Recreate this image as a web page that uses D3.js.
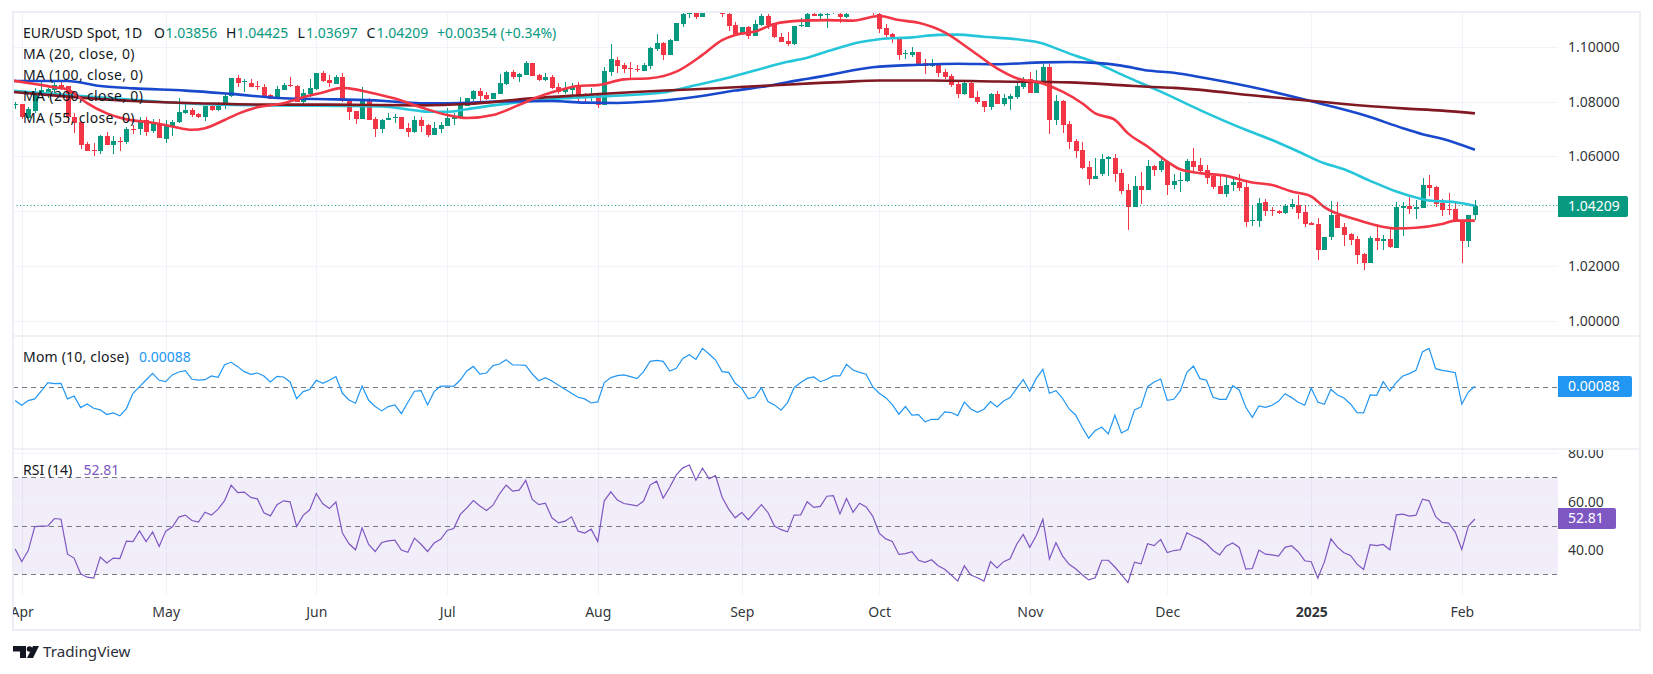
<!DOCTYPE html>
<html>
<head>
<meta charset="utf-8">
<script src="https://cdn.jsdelivr.net/npm/d3@7"></script>
<style>
html,body{margin:0;padding:0;background:#fff;overflow:hidden}
svg{display:block}
text{font-family:"Noto Sans",Roboto,sans-serif}
</style>
</head>
<body>
<div id="chart"></div>
<script>
//candles, first one is the last bar of March so day index starts at -1
var firstDay= -1;
var opens= [1.0786,1.0791,1.0739,1.0767,1.0830,1.0835,1.0842,1.0859,1.0857,1.0745,
1.0724,1.0646,1.0624,1.0618,1.0675,1.0641,1.0655,1.0654,1.0699,1.0699,
1.0731,1.0692,1.0723,1.0665,1.0711,1.0724,1.0758,1.0769,1.0755,1.0745,
1.0784,1.0769,1.0786,1.0819,1.0886,1.0871,1.0866,1.0857,1.0854,1.0823,
1.0812,1.0843,1.0859,1.0857,1.0800,1.0828,1.0846,1.0903,1.0879,1.0864,
1.0888,1.0801,1.0767,1.0737,1.0809,1.0737,1.0700,1.0732,1.0740,1.0745,
1.0703,1.0688,1.0733,1.0715,1.0678,1.0700,1.0711,1.0737,1.0739,1.0784,
1.0809,1.0839,1.0824,1.0809,1.0828,1.0864,1.0908,1.0890,1.0897,1.0939,
1.0897,1.0879,1.0890,1.0852,1.0834,1.0842,1.0856,1.0820,1.0814,1.0824,
1.0786,1.0909,1.0951,1.0933,1.0921,1.0920,1.0913,1.0931,1.0990,1.1013,
1.0970,1.1022,1.1083,1.1121,1.1124,1.1109,1.1131,1.1148,1.1134,1.1119,
1.1079,1.1045,1.1070,1.1040,1.1078,1.1112,1.1085,1.1034,1.1021,1.1009,
1.1074,1.1073,1.1121,1.1113,1.1115,1.1124,1.1121,1.1109,1.1126,1.1141,
1.1152,1.1141,1.1121,1.1068,1.1046,1.1032,1.0973,1.0970,1.0981,1.0939,
1.0931,1.0937,1.0908,1.0893,1.0864,1.0828,1.0869,1.0817,1.0801,1.0780,
1.0828,1.0791,1.0809,1.0817,1.0852,1.0881,1.0831,1.0871,1.0926,1.0733,
1.0803,1.0718,1.0656,1.0624,1.0562,1.0518,1.0536,1.0592,1.0595,1.0540,
1.0478,1.0417,1.0493,1.0478,1.0565,1.0551,1.0578,1.0496,1.0510,1.0511,
1.0584,1.0569,1.0551,1.0529,1.0493,1.0463,1.0496,1.0507,1.0489,1.0366,
1.0365,1.0434,1.0405,1.0402,1.0392,1.0416,1.0423,1.0398,1.0358,1.0354,
1.0260,1.0307,1.0387,1.0343,1.0318,1.0300,1.0245,1.0212,1.0303,1.0292,
1.0300,1.0267,1.0412,1.0420,1.0409,1.0412,1.0496,1.0489,1.0431,1.0410,
1.0409,1.0365,1.0292,1.03856];
var highs= [1.0800,1.0791,1.0781,1.0848,1.0879,1.0848,1.0873,1.0879,1.0857,1.0757,
1.0724,1.0654,1.0650,1.0678,1.0689,1.0675,1.0672,1.0709,1.0715,1.0745,
1.0743,1.0735,1.0735,1.0733,1.0731,1.0812,1.0794,1.0775,1.0757,1.0784,
1.0794,1.0800,1.0830,1.0887,1.0896,1.0881,1.0881,1.0875,1.0863,1.0826,
1.0857,1.0866,1.0888,1.0859,1.0845,1.0881,1.0905,1.0913,1.0897,1.0897,
1.0903,1.0801,1.0767,1.0852,1.0812,1.0745,1.0735,1.0760,1.0754,1.0745,
1.0721,1.0748,1.0745,1.0718,1.0727,1.0727,1.0775,1.0757,1.0815,1.0814,
1.0842,1.0848,1.0834,1.0830,1.0900,1.0911,1.0915,1.0905,1.0948,1.0939,
1.0900,1.0903,1.0897,1.0866,1.0870,1.0866,1.0871,1.0832,1.0848,1.0833,
1.0927,1.1010,1.0961,1.0939,1.0944,1.0932,1.0942,1.0998,1.1046,1.1018,
1.1029,1.1087,1.1134,1.1146,1.1134,1.1134,1.1158,1.1158,1.1143,1.1134,
1.1091,1.1070,1.1075,1.1097,1.1118,1.1121,1.1085,1.1051,1.1052,1.1075,
1.1103,1.1134,1.1134,1.1134,1.1134,1.1152,1.1134,1.1131,1.1155,1.1163,
1.1163,1.1148,1.1134,1.1083,1.1049,1.1034,1.0988,1.0998,1.0981,1.0954,
1.0954,1.0939,1.0917,1.0900,1.0873,1.0873,1.0873,1.0839,1.0803,1.0830,
1.0839,1.0828,1.0828,1.0873,1.0888,1.0908,1.0915,1.0937,1.0937,1.0824,
1.0806,1.0729,1.0664,1.0652,1.0584,1.0595,1.0609,1.0602,1.0609,1.0554,
1.0500,1.0529,1.0544,1.0587,1.0569,1.0597,1.0578,1.0536,1.0544,1.0591,
1.0631,1.0595,1.0569,1.0536,1.0533,1.0525,1.0525,1.0536,1.0511,1.0423,
1.0449,1.0445,1.0415,1.0405,1.0427,1.0445,1.0460,1.0423,1.0361,1.0376,
1.0307,1.0438,1.0434,1.0358,1.0321,1.0310,1.0249,1.0310,1.0354,1.0314,
1.0340,1.0434,1.0434,1.0456,1.0442,1.0522,1.0533,1.0493,1.0445,1.0467,
1.0434,1.0365,1.0387,1.04425];
var lows= [1.0772,1.0735,1.0735,1.0757,1.0828,1.0812,1.0830,1.0842,1.0721,1.0687,
1.0627,1.0621,1.0603,1.0609,1.0641,1.0610,1.0618,1.0646,1.0681,1.0678,
1.0675,1.0684,1.0666,1.0650,1.0675,1.0723,1.0755,1.0745,1.0739,1.0728,
1.0767,1.0767,1.0772,1.0818,1.0854,1.0834,1.0852,1.0842,1.0815,1.0809,
1.0808,1.0842,1.0852,1.0799,1.0786,1.0818,1.0842,1.0873,1.0854,1.0863,
1.0799,1.0733,1.0718,1.0737,1.0733,1.0669,1.0684,1.0731,1.0723,1.0700,
1.0672,1.0687,1.0690,1.0669,1.0678,1.0687,1.0711,1.0715,1.0735,1.0784,
1.0803,1.0803,1.0806,1.0808,1.0828,1.0862,1.0883,1.0873,1.0896,1.0893,
1.0875,1.0875,1.0847,1.0826,1.0828,1.0818,1.0803,1.0800,1.0803,1.0778,
1.0786,1.0893,1.0905,1.0905,1.0885,1.0908,1.0910,1.0917,1.0985,1.0951,
1.0970,1.1022,1.1073,1.1103,1.1100,1.1107,1.1124,1.1126,1.1107,1.1058,
1.1043,1.1043,1.1028,1.1039,1.1077,1.1064,1.1033,1.1017,1.1004,1.1006,
1.1073,1.1073,1.1113,1.1097,1.1069,1.1119,1.1085,1.1106,1.1124,1.1138,
1.1134,1.1115,1.1049,1.1033,1.1012,1.0951,1.0956,1.0961,1.0936,1.0900,
1.0925,1.0891,1.0882,1.0854,1.0813,1.0824,1.0813,1.0791,1.0763,1.0769,
1.0791,1.0785,1.0769,1.0811,1.0847,1.0831,1.0831,1.0871,1.0682,1.0715,
1.0687,1.0627,1.0595,1.0554,1.0496,1.0518,1.0530,1.0527,1.0507,1.0463,
1.0332,1.0417,1.0427,1.0476,1.0529,1.0542,1.0460,1.0482,1.0471,1.0507,
1.0545,1.0536,1.0500,1.0482,1.0463,1.0453,1.0474,1.0474,1.0343,1.0347,
1.0343,1.0383,1.0383,1.0391,1.0391,1.0409,1.0372,1.0343,1.0351,1.0223,
1.0260,1.0296,1.0340,1.0274,1.0278,1.0208,1.0187,1.0212,1.0260,1.0260,
1.0267,1.0267,1.0310,1.0391,1.0372,1.0412,1.0454,1.0415,1.0383,1.0387,
1.0365,1.0211,1.0270,1.03697];
var closes= [1.0791,1.0743,1.0772,1.0836,1.0842,1.0845,1.0860,1.0854,1.0743,1.0723,
1.0642,1.0621,1.0619,1.0675,1.0641,1.0656,1.0652,1.0699,1.0695,1.0731,
1.0690,1.0724,1.0666,1.0715,1.0726,1.0762,1.0769,1.0751,1.0745,1.0784,
1.0769,1.0791,1.0822,1.0885,1.0866,1.0876,1.0854,1.0853,1.0819,1.0811,
1.0846,1.0860,1.0856,1.0800,1.0830,1.0848,1.0903,1.0876,1.0866,1.0888,
1.0801,1.0763,1.0737,1.0809,1.0733,1.0700,1.0733,1.0740,1.0745,1.0700,
1.0689,1.0733,1.0711,1.0678,1.0703,1.0715,1.0740,1.0745,1.0789,1.0812,
1.0839,1.0820,1.0809,1.0830,1.0866,1.0908,1.0888,1.0900,1.0939,1.0893,
1.0879,1.0888,1.0850,1.0834,1.0845,1.0856,1.0818,1.0817,1.0825,1.0788,
1.0911,1.0955,1.0931,1.0919,1.0917,1.0916,1.0933,1.0996,1.1013,1.0971,
1.1024,1.1086,1.1121,1.1134,1.1109,1.1128,1.1146,1.1136,1.1119,1.1075,
1.1045,1.1070,1.1040,1.1083,1.1112,1.1079,1.1034,1.1017,1.1009,1.1075,
1.1078,1.1121,1.1113,1.1119,1.1121,1.1140,1.1109,1.1121,1.1143,1.1153,
1.1136,1.1124,1.1064,1.1043,1.1032,1.0970,1.0978,1.0981,1.0937,1.0931,
1.0938,1.0905,1.0888,1.0860,1.0828,1.0868,1.0813,1.0799,1.0780,1.0828,
1.0791,1.0813,1.0820,1.0857,1.0881,1.0831,1.0875,1.0926,1.0733,1.0802,
1.0715,1.0654,1.0620,1.0558,1.0518,1.0528,1.0591,1.0597,1.0536,1.0474,
1.0414,1.0493,1.0478,1.0565,1.0551,1.0584,1.0496,1.0511,1.0514,1.0584,
1.0562,1.0547,1.0522,1.0489,1.0463,1.0496,1.0507,1.0485,1.0361,1.0370,
1.0431,1.0402,1.0402,1.0392,1.0420,1.0427,1.0394,1.0354,1.0351,1.0260,
1.0307,1.0387,1.0340,1.0314,1.0296,1.0241,1.0212,1.0303,1.0292,1.0300,
1.0270,1.0416,1.0420,1.0409,1.0416,1.0496,1.0485,1.0427,1.0405,1.0408,
1.0369,1.0292,1.0387,1.04209];

var ma20Days= [-2,2,5,7,8,10,13,16,20,23,26,28,31,33,36,40,43,46,49,50,53,57,61,65,68,72,76,79,82,85,88,92,96,100,104,107,109,112,115,119,123,127,131,134,137,141,145,149,152,156,159,162,164,167,169,172,175,177,180,184,188,191,194,197,199,204,207,210,213,217,219,222];
var ma20= [1.0879,1.0864,1.0852,1.0845,1.0830,1.0794,1.0757,1.0735,1.0723,1.0709,1.0697,1.0703,1.0733,1.0755,1.0779,1.0794,1.0816,1.0833,1.0850,1.0848,1.0834,1.0811,1.0779,1.0751,1.0740,1.0751,1.0788,1.0818,1.0840,1.0857,1.0860,1.0881,1.0885,1.0909,1.0970,1.1024,1.1043,1.1055,1.1083,1.1095,1.1097,1.1095,1.1112,1.1097,1.1087,1.1052,1.0988,1.0921,1.0885,1.0866,1.0836,1.0794,1.0757,1.0733,1.0684,1.0636,1.0581,1.0553,1.0539,1.0529,1.0505,1.0496,1.0472,1.0454,1.0415,1.0369,1.0348,1.0337,1.0340,1.0354,1.0366,1.0366];
var ma55Days= [-2,7,17,27,37,48,55,61,62,65,68,72,78,83,88,93,98,102,107,112,117,119,124,128,131,136,140,143,147,152,156,158,161,164,166,169,172,174,180,187,191,195,199,202,206,210,213,215,219,222];
var ma55= [1.0840,1.0824,1.0806,1.0791,1.0786,1.0784,1.0782,1.0765,1.0763,1.0763,1.0772,1.0786,1.0802,1.0812,1.0818,1.0824,1.0833,1.0854,1.0881,1.0913,1.0945,1.0954,1.0990,1.1016,1.1027,1.1034,1.1043,1.1044,1.1036,1.1027,1.1012,1.0994,1.0967,1.0943,1.0921,1.0888,1.0857,1.0836,1.0769,1.0697,1.0660,1.0618,1.0575,1.0553,1.0511,1.0472,1.0450,1.0439,1.0433,1.0420];
var ma100Days= [-2,3,7,12,17,25,32,40,48,55,61,65,73,81,86,91,96,101,109,114,119,122,124,130,137,143,149,156,160,164,168,172,176,181,190,197,205,211,214,217,222];
var ma100= [1.0875,1.0875,1.0875,1.0857,1.0848,1.0840,1.0828,1.0812,1.0808,1.0803,1.0794,1.0794,1.0800,1.0802,1.0796,1.0795,1.0800,1.0811,1.0840,1.0857,1.0879,1.0891,1.0900,1.0925,1.0934,1.0938,1.0936,1.0943,1.0944,1.0941,1.0931,1.0913,1.0905,1.0885,1.0842,1.0801,1.0751,1.0703,1.0681,1.0664,1.0624];
var ma200Days= [-2,7,17,27,37,47,61,68,78,86,93,101,109,122,125,131,139,149,160,169,172,176,190,211,217,222];
var ma200= [1.0836,1.0818,1.0802,1.0794,1.0789,1.0789,1.0786,1.0791,1.0812,1.0824,1.0834,1.0843,1.0852,1.0868,1.0871,1.0877,1.0877,1.0873,1.0870,1.0858,1.0854,1.0850,1.0818,1.0775,1.0767,1.0757];

var momentum= [-.0104,-.0141,-.0104,-.0091,-.0029,.0037,.0029,.0031,-.0091,-.0068,
-.0159,-.0131,-.0164,-.0177,-.0214,-.0201,-.0224,-.0167,-.0047,.0005,
.0057,.0110,.0055,.0044,.0097,.0120,.0131,.0063,.0057,.0060,
.0089,.0078,.0177,.0196,.0162,.0123,.0102,.0112,.0089,.0042,
.0086,.0081,.0042,-.0089,-.0034,-.0018,.0055,.0031,.0055,.0084,
-.0047,-.0099,-.0125,.0010,-.0102,-.0151,-.0185,-.0151,-.0138,-.0206,
-.0117,-.0031,-.0026,-.0138,-.0034,.0010,.0010,.0008,.0057,.0128,
.0164,.0104,.0112,.0170,.0183,.0217,.0175,.0175,.0172,.0104,
.0052,.0076,.0050,.0016,-.0016,-.0047,-.0078,-.0091,-.0123,-.0115,
.0037,.0076,.0091,.0097,.0084,.0068,.0123,.0204,.0211,.0204,
.0128,.0149,.0227,.0256,.0219,.0305,.0261,.0214,.0123,.0117,
.0031,-.0008,-.0091,-.0076,-.0003,-.0112,-.0138,-.0180,-.0120,-.0003,
.0037,.0070,.0081,.0044,.0063,.0089,.0089,.0180,.0136,.0117,
.0102,.0005,-.0047,-.0081,-.0136,-.0211,-.0151,-.0219,-.0214,-.0271,
-.0251,-.0251,-.0193,-.0198,-.0222,-.0115,-.0170,-.0196,-.0172,-.0112,
-.0154,-.0107,-.0081,-.0008,.0060,-.0031,.0070,.0141,-.0047,-.0026,
-.0086,-.0170,-.0217,-.0313,-.0399,-.0339,-.0313,-.0365,-.0219,-.0358,
-.0331,-.0177,-.0154,.0005,.0042,.0065,-.0102,-.0094,-.0026,.0117,
.0167,.0068,.0055,-.0078,-.0094,-.0094,.0013,-.0021,-.0157,-.0235,
-.0146,-.0157,-.0141,-.0110,-.0050,-.0081,-.0117,-.0141,-.0008,-.0115,
-.0133,-.0016,-.0060,-.0084,-.0131,-.0198,-.0201,-.0060,-.0063,.0044,
-.0029,.0039,.0089,.0107,.0133,.0279,.0305,.0146,.0133,.0125,
.0115,-.0131,-.0037,.00088];
var rsi= [40.4,35.3,39.8,49.7,49.9,50.0,53.0,52.7,38.3,36.7,
30.2,28.8,28.4,37.1,34.7,36.7,36.5,43.7,43.5,47.9,
43.5,47.5,41.5,47.8,49.5,53.6,54.4,52.2,51.5,55.6,
54.4,56.9,60.4,66.8,63.7,63.9,61.7,61.1,55.4,54.1,
58.7,60.3,59.9,49.7,54.3,56.6,63.3,59.1,57.1,59.8,
47.0,42.6,40.1,49.2,42.3,39.4,43.1,43.8,44.1,40.0,
39.1,44.9,42.4,39.4,42.9,44.4,48.1,48.9,54.7,57.4,
60.4,58.2,56.3,58.5,63.2,66.8,64.3,64.7,68.7,60.9,
58.7,59.3,53.3,51.2,51.9,53.7,47.8,47.0,48.6,43.5,
60.3,64.0,60.6,59.2,58.7,58.2,60.2,66.8,68.4,61.4,
65.9,71.0,73.9,75.1,68.8,73.8,69.4,70.7,61.8,56.9,
53.3,55.5,52.5,55.6,58.7,55.5,49.9,48.4,47.5,54.4,
54.5,59.9,57.6,58.0,62.2,62.4,54.9,61.3,55.6,59.3,
57.8,54.0,47.0,44.6,43.5,38.2,38.5,39.3,35.8,34.9,
36.0,33.5,32.1,29.7,27.2,33.5,29.7,28.6,27.2,35.2,
32.6,35.2,36.4,42.4,46.4,41.1,46.0,52.7,36.3,43.0,
37.6,34.1,32.3,29.8,27.7,28.6,35.8,35.8,33.0,29.9,
26.6,35.0,34.3,42.6,41.8,44.4,39.0,39.8,40.1,47.1,
45.7,44.5,42.6,39.8,38.0,41.6,42.9,41.1,32.1,32.4,
40.0,38.3,38.0,37.5,41.1,41.8,39.3,35.6,35.2,28.4,
35.0,44.6,41.2,38.9,37.8,34.2,32.0,42.2,41.8,42.3,
40.1,54.5,54.8,54.0,54.4,61.0,60.3,53.8,51.4,51.1,
47.4,40.2,49.9,52.81];

//tick labels
var monthDays= [0,22,45,65,88,110,131,154,175,197,220];
var monthLabels= ["Apr","May","Jun","Jul","Aug","Sep","Oct","Nov","Dec","2025","Feb"];
var priceGrid= [1.00,1.02,1.04,1.06,1.08,1.10];
var priceTicks= [1.00,1.02,1.06,1.08,1.10]; //1.04 sits under the last price tag
var rsiGrid= [40,60,80];
var rsiTicks= [40,60,80];
var rsiLevels= [30,50,70];

var maLegend= ["MA (20, close, 0)","MA (100, close, 0)","MA (200, close, 0)","MA (55, close, 0)"];

//colors
var upColor= "#089981";
var downColor= "#f23645";
var ma20Color= "#f23645";
var ma55Color= "#26c6da";
var ma100Color= "#1848cc";
var ma200Color= "#801922";
var momColor= "#2196f3";
var rsiColor= "#7e57c2";
var gridColor= "#f0f3fa";
var frameColor= "#eceef5";
var textColor= "#131722";

var w= 1653;
var h= 674;
var plotLeft= 13;
var plotRight= 1558;
var frameRight= 1640;
var frameTop= 13;
var priceBottom= 336;
var momBottom= 449;
var rsiBottom= 595;
var frameBottom= 630;

var svg= d3.select("#chart").append("svg").attr("width",w).attr("height",h);
svg.append("rect").attr("width",w).attr("height",h).attr("fill","#ffffff");

//scales
var x= d3.scaleLinear().domain([0,222]).range([21.7,1474.9]);
var yPrice= d3.scaleLinear().domain([1.00,1.10]).range([321,46.7]);
var yMom= d3.scaleLinear().domain([-0.04,0.04]).range([438.3,336.3]);
var yRsi= d3.scaleLinear().domain([30,70]).range([574.3,477.3]);

//clips for the panes
var defs= svg.append("defs");
function addClip(id,x0,y0,x1,y1){
    defs.append("clipPath").attr("id",id).append("rect")
        .attr("x",x0).attr("y",y0).attr("width",x1-x0).attr("height",y1-y0);
}
addClip("pricePane",plotLeft,frameTop,plotRight,priceBottom);
addClip("momPane",plotLeft,priceBottom,plotRight,momBottom);
addClip("rsiPane",plotLeft,momBottom,plotRight,rsiBottom);
addClip("timePane",plotLeft,rsiBottom,plotRight,frameBottom);
addClip("rsiAxis",plotRight,momBottom+1,frameRight,rsiBottom);

//vertical grid over all panes
svg.append("g").selectAll("line")
    .data(monthDays)
    .enter().append("line")
    .attr("x1",function(d){return Math.round(x(d))+0.5;})
    .attr("x2",function(d){return Math.round(x(d))+0.5;})
    .attr("y1",frameTop)
    .attr("y2",rsiBottom)
    .attr("stroke",gridColor)
    .attr("stroke-width",1);

//horizontal grid, price pane
svg.append("g").selectAll("line")
    .data(priceGrid)
    .enter().append("line")
    .attr("x1",plotLeft).attr("x2",plotRight)
    .attr("y1",function(d){return Math.round(yPrice(d))+0.5;})
    .attr("y2",function(d){return Math.round(yPrice(d))+0.5;})
    .attr("stroke",gridColor);

//rsi background and its grid
svg.append("rect")
    .attr("x",plotLeft)
    .attr("y",yRsi(70))
    .attr("width",plotRight-plotLeft)
    .attr("height",yRsi(30)-yRsi(70))
    .attr("fill",rsiColor)
    .attr("fill-opacity",0.1);
svg.append("g").selectAll("line")
    .data(rsiGrid)
    .enter().append("line")
    .attr("x1",plotLeft).attr("x2",plotRight)
    .attr("y1",function(d){return Math.round(yRsi(d))+0.5;})
    .attr("y2",function(d){return Math.round(yRsi(d))+0.5;})
    .attr("stroke",gridColor);

//pane separators and the frame
function frameLine(x1,y1,x2,y2,color,width){
    svg.append("line").attr("x1",x1).attr("y1",y1).attr("x2",x2).attr("y2",y2)
        .attr("stroke",color).attr("stroke-width",width);
}
frameLine(12,priceBottom,frameRight,priceBottom,"#e0e3eb",1);
frameLine(12,momBottom,frameRight,momBottom,"#e0e3eb",1);

//candles
var candleData= d3.range(opens.length).map(function(i){
    return {day:i+firstDay,o:opens[i],h:highs[i],l:lows[i],c:closes[i]};
});
var candles= svg.append("g").attr("clip-path","url(#pricePane)")
    .selectAll("g.candle")
    .data(candleData)
    .enter().append("g")
    .attr("class","candle")
    .attr("fill",function(d){return d.c>=d.o?upColor:downColor;});
candles.append("rect") //wick
    .attr("x",function(d){return Math.round(x(d.day))-0.5;})
    .attr("width",1)
    .attr("y",function(d){return yPrice(d.h);})
    .attr("height",function(d){return yPrice(d.l)-yPrice(d.h);})
    .attr("shape-rendering","crispEdges");
candles.append("rect") //body
    .attr("x",function(d){return Math.round(x(d.day))-2.5;})
    .attr("width",5)
    .attr("y",function(d){return yPrice(Math.max(d.o,d.c));})
    .attr("height",function(d){return Math.max(1,Math.abs(yPrice(d.o)-yPrice(d.c)));})
    .attr("shape-rendering","crispEdges");

//moving averages
var maLine= d3.line()
    .x(function(d){return x(d[0]);})
    .y(function(d){return yPrice(d[1]);})
    .curve(d3.curveMonotoneX);
function drawMa(days,values,color){
    svg.append("path")
        .attr("clip-path","url(#pricePane)")
        .attr("d",maLine(d3.zip(days,values)))
        .attr("fill","none")
        .attr("stroke",color)
        .attr("stroke-width",2.6)
        .attr("stroke-linejoin","round");
}
drawMa(ma55Days,ma55,ma55Color);
drawMa(ma100Days,ma100,ma100Color);
drawMa(ma200Days,ma200,ma200Color);
drawMa(ma20Days,ma20,ma20Color);

//last price line
var lastClose= closes[closes.length-1];
svg.append("line")
    .attr("x1",plotLeft).attr("x2",plotRight)
    .attr("y1",yPrice(lastClose)).attr("y2",yPrice(lastClose))
    .attr("stroke",upColor)
    .attr("stroke-width",1)
    .attr("stroke-dasharray","1 2.5");

//dashed levels
function dashed(y){
    svg.append("line")
        .attr("x1",plotLeft).attr("x2",plotRight)
        .attr("y1",Math.round(y)+0.5).attr("y2",Math.round(y)+0.5)
        .attr("stroke","#787b86")
        .attr("stroke-width",1)
        .attr("stroke-dasharray","5 4");
}
dashed(yMom(0));
rsiLevels.forEach(function(d){dashed(yRsi(d));});

//momentum and rsi lines
var dayLine= function(yScale){
    return d3.line()
        .x(function(d,i){return x(i+firstDay);})
        .y(function(d){return yScale(d);});
};
svg.append("path")
    .attr("clip-path","url(#momPane)")
    .attr("d",dayLine(yMom)(momentum))
    .attr("fill","none")
    .attr("stroke",momColor)
    .attr("stroke-width",1.2);
svg.append("path")
    .attr("clip-path","url(#rsiPane)")
    .attr("d",dayLine(yRsi)(rsi))
    .attr("fill","none")
    .attr("stroke",rsiColor)
    .attr("stroke-width",1.2);

//outer frame on top of everything
frameLine(13,frameTop-1,frameRight,frameTop-1,frameColor,2);
frameLine(13,frameBottom,frameRight,frameBottom,frameColor,2);
frameLine(13,frameTop-2,13,frameBottom+1,frameColor,2);
frameLine(frameRight,frameTop-2,frameRight,frameBottom+1,frameColor,2);

//axes
var fontSize= 14;
var priceAxis= d3.axisRight(yPrice)
    .tickValues(priceTicks)
    .tickSize(0)
    .tickPadding(10)
    .tickFormat(d3.format(".5f"));
var priceAxisG= svg.append("g")
    .attr("transform","translate("+plotRight+",0)")
    .call(priceAxis);
var rsiAxis= d3.axisRight(yRsi)
    .tickValues(rsiTicks)
    .tickSize(0)
    .tickPadding(10)
    .tickFormat(d3.format(".2f"));
var rsiAxisG= svg.append("g")
    .attr("clip-path","url(#rsiAxis)")
    .append("g")
    .attr("transform","translate("+plotRight+",0)")
    .call(rsiAxis);
var timeAxis= d3.axisBottom(x)
    .tickValues(monthDays)
    .tickSize(0)
    .tickPadding(0)
    .tickFormat(function(d,i){return monthLabels[i];});
var timeAxisG= svg.append("g")
    .attr("clip-path","url(#timePane)")
    .append("g")
    .attr("transform","translate(0,607)")
    .call(timeAxis);
[priceAxisG,rsiAxisG,timeAxisG].forEach(function(g){
    g.select(".domain").remove();
    g.selectAll("text")
        .attr("font-family","'Noto Sans',Roboto,sans-serif")
        .attr("font-size",fontSize)
        .attr("fill",textColor)
        .attr("fill-opacity",0.9);
});
timeAxisG.selectAll("text")
    .attr("font-weight",function(d,i){return monthLabels[i]=="2025"?"700":"400";});

//value tags on the price scale
function valueTag(y0,y1,x1,color,label){
    svg.append("path")
        .attr("d","M"+plotRight+","+y0+"H"+(x1-2)+"q2,0 2,2V"+(y1-2)+"q0,2 -2,2H"+plotRight+"Z")
        .attr("fill",color);
    svg.append("text")
        .attr("x",plotRight+10)
        .attr("y",(y0+y1)/2)
        .attr("dy","0.35em")
        .attr("font-size",fontSize)
        .attr("fill","#ffffff")
        .text(label);
}
valueTag(196,217,1628,upColor,"1.04209");
valueTag(376,397,1632,momColor,"0.00088");
valueTag(508,529,1616,rsiColor,"52.81");

//legend
function legendText(x0,y,label,color,spacing){
    return svg.append("text")
        .attr("x",x0)
        .attr("y",y)
        .attr("dy","0.35em")
        .attr("font-size",fontSize)
        .attr("letter-spacing",spacing||0)
        .attr("fill",color)
        .text(label);
}
legendText(23,33,"EUR/USD Spot, 1D",textColor);
legendText(154,33,"O",textColor);
legendText(165.5,33,"1.03856",upColor);
legendText(226,33,"H",textColor);
legendText(236.5,33,"1.04425",upColor);
legendText(297.5,33,"L",textColor);
legendText(306,33,"1.03697",upColor);
legendText(366.5,33,"C",textColor);
legendText(376.5,33,"1.04209",upColor);
legendText(437,33,"+0.00354 (+0.34%)",upColor);
maLegend.forEach(function(d,i){
    legendText(23,54+i*21.2,d,textColor,0.35);
});
legendText(23,357,"Mom (10, close)",textColor,0.2);
legendText(139,357,"0.00088",momColor);
legendText(23,470,"RSI (14)",textColor);
legendText(83.5,470,"52.81",rsiColor);

//tradingview mark
var logo= svg.append("g").attr("fill","#131722");
logo.append("path").attr("d","M13,646H26V658H20V651.5H13Z");
logo.append("circle").attr("cx",29.5).attr("cy",649).attr("r",2.8);
logo.append("path").attr("d","M33,646H39L33,658H27Z");
svg.append("text")
    .attr("x",43)
    .attr("y",652)
    .attr("dy","0.35em")
    .attr("font-size",15.2)
    .attr("fill","#2a2e39")
    .text("TradingView");
</script>
</body>
</html>
